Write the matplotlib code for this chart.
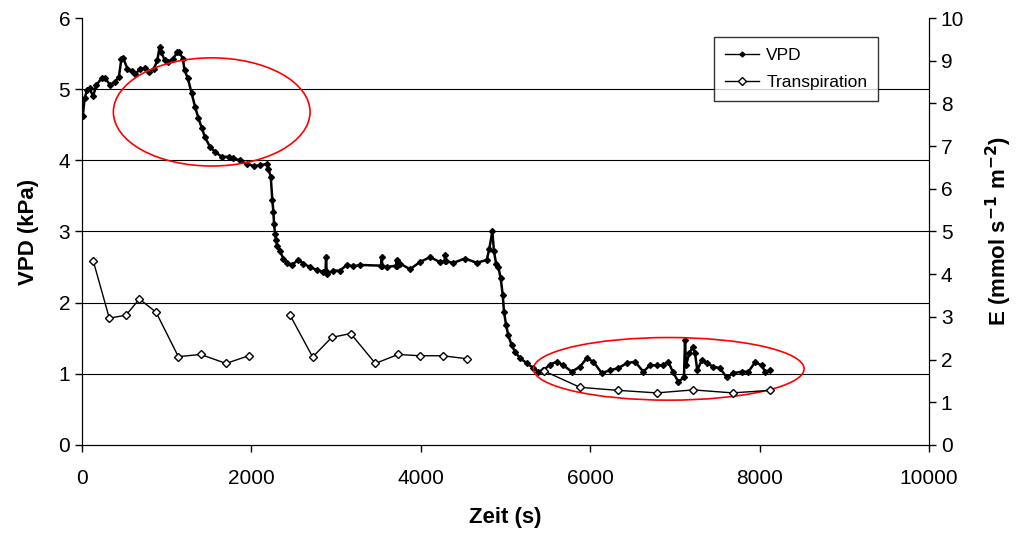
import numpy as np
import matplotlib
matplotlib.use('Agg')
import matplotlib.pyplot as plt
from matplotlib.patches import Ellipse
from matplotlib.lines import Line2D

plt.rcParams['font.family'] = ['Liberation Sans', 'DejaVu Sans']

# VPD (kPa)
zeit_vpd = [10, 30, 60, 90, 130, 170, 230, 270, 330, 385, 435, 465, 485, 535, 585,
            630, 680, 740, 790, 850, 890, 915, 935, 975, 1015, 1075, 1125, 1150, 1190,
            1210, 1250, 1295, 1335, 1375, 1415, 1450, 1510, 1570, 1650, 1730, 1785,
            1865, 1945, 2025, 2100, 2180, 2200, 2228, 2247, 2259, 2267, 2279, 2290,
            2306, 2338, 2377, 2417, 2476, 2554, 2613, 2692, 2771, 2849, 2875, 2881,
            2889, 2967, 3046, 3125, 3203, 3282, 3530, 3538, 3546, 3597, 3710, 3715,
            3720, 3754, 3872, 3990, 4108, 4227, 4280, 4286, 4292, 4384, 4522, 4660,
            4778, 4809, 4844, 4864, 4888, 4915, 4943, 4967, 4982, 5006, 5033, 5073,
            5112, 5171, 5250, 5329, 5388, 5447, 5525, 5604, 5683, 5781, 5880, 5958,
            6037, 6136, 6234, 6332, 6431, 6529, 6627, 6706, 6785, 6856, 6922, 6974,
            7040, 7107, 7119, 7131, 7170, 7210, 7237, 7264, 7316, 7375, 7454, 7532,
            7611, 7690, 7789, 7867, 7946, 8025, 8064, 8123]
vpd = [4.63, 4.87, 4.99, 5.01, 4.90, 5.06, 5.15, 5.16, 5.06, 5.10, 5.17, 5.43, 5.44,
       5.29, 5.25, 5.21, 5.28, 5.30, 5.24, 5.29, 5.41, 5.59, 5.52, 5.41, 5.38, 5.43,
       5.52, 5.52, 5.43, 5.27, 5.15, 4.94, 4.75, 4.59, 4.45, 4.33, 4.19, 4.12, 4.05,
       4.05, 4.03, 4.00, 3.95, 3.92, 3.93, 3.95, 3.88, 3.77, 3.44, 3.28, 3.10, 2.97,
       2.88, 2.79, 2.72, 2.62, 2.56, 2.53, 2.60, 2.55, 2.50, 2.46, 2.43, 2.44, 2.64,
       2.40, 2.45, 2.45, 2.53, 2.51, 2.53, 2.52, 2.64, 2.51, 2.50, 2.52, 2.60, 2.52,
       2.55, 2.47, 2.57, 2.64, 2.57, 2.58, 2.67, 2.58, 2.56, 2.62, 2.56, 2.60, 2.76,
       3.00, 2.72, 2.55, 2.50, 2.34, 2.11, 1.87, 1.69, 1.54, 1.40, 1.31, 1.22, 1.15,
       1.08, 1.03, 1.05, 1.13, 1.17, 1.12, 1.03, 1.10, 1.22, 1.17, 1.01, 1.05, 1.08,
       1.15, 1.17, 1.03, 1.12, 1.12, 1.12, 1.17, 1.03, 0.89, 0.95, 1.47, 1.12, 1.29,
       1.38, 1.29, 1.05, 1.19, 1.15, 1.10, 1.08, 0.95, 1.01, 1.03, 1.03, 1.16, 1.12,
       1.03, 1.05]

# Transpiration E (mmol s-1 m-2), NaN = Lücke
zeit_e = [134, 322, 519, 677, 874, 1137, 1401, 1700, 1968, np.nan,
          2456, 2723, 2948, 3172, 3463, 3731, 3990, 4258, 4542, np.nan,
          5458, 5880, 6325, 6785, 7217, 7682, 8123]
transpiration = [4.30, 2.97, 3.04, 3.42, 3.11, 2.07, 2.12, 1.91, 2.09, np.nan,
                 3.04, 2.06, 2.52, 2.61, 1.91, 2.12, 2.09, 2.09, 2.02, np.nan,
                 1.73, 1.35, 1.28, 1.22, 1.29, 1.22, 1.28]

fig = plt.figure(figsize=(10.19, 5.36), dpi=100)
ax = fig.add_axes([0.0805, 0.1698, 0.8312, 0.7966])
ax2 = ax.twinx()

# Gitterlinien
for v in [1, 2, 3, 4, 5]:
    ax.axhline(v, color='black', lw=0.8, zorder=0)

ax.plot(zeit_vpd, vpd, color='black', lw=1.8, marker='D', markersize=3, zorder=3)
ax2.plot(zeit_e, transpiration, color='black', lw=1.0, marker='D', markersize=4,
         markerfacecolor='white', markeredgecolor='black', markeredgewidth=1.0, zorder=3)

# rote Markierungen
ax.add_patch(Ellipse((1531, 4.68), 2322, 1.52, fill=False, edgecolor='red', lw=1.2, zorder=4))
ax.add_patch(Ellipse((6927, 1.07), 3196, 0.88, fill=False, edgecolor='red', lw=1.2, zorder=4))

ax.set_xlim(0, 10000)
ax.set_ylim(0, 6)
ax2.set_ylim(0, 10)
ax.set_xticks(np.arange(0, 10001, 2000))
ax.set_yticks(np.arange(0, 7, 1))
ax2.set_yticks(np.arange(0, 11, 1))

for a in (ax, ax2):
    a.spines['top'].set_visible(False)
    a.tick_params(direction='out', length=5, width=1, labelsize=15)
ax.tick_params(axis='x', pad=12)

ax.set_xlabel('Zeit (s)', fontsize=16, fontweight='bold', labelpad=14)
ax.set_ylabel('VPD (kPa)', fontsize=16, fontweight='bold', labelpad=14)
ax2.set_ylabel('E (mmol s$^{\\mathbf{-1}}$ m$^{\\mathbf{-2}}$)', fontsize=16,
               fontweight='bold', labelpad=14)

h1 = Line2D([], [], color='black', lw=1.0, marker='D', markersize=2.5)
h2 = Line2D([], [], color='black', lw=1.0, marker='D', markersize=4,
            markerfacecolor='white', markeredgecolor='black')
leg = ax2.legend([h1, h2], ['VPD', 'Transpiration'], loc='upper left',
                 bbox_to_anchor=(0.736, 0.975), fontsize=12.5, frameon=True,
                 fancybox=False, edgecolor='black', handlelength=2.0,
                 borderpad=0.6, labelspacing=0.7, handletextpad=0.4)
leg.get_frame().set_linewidth(1.0)

fig.savefig('out.png', dpi=100)
